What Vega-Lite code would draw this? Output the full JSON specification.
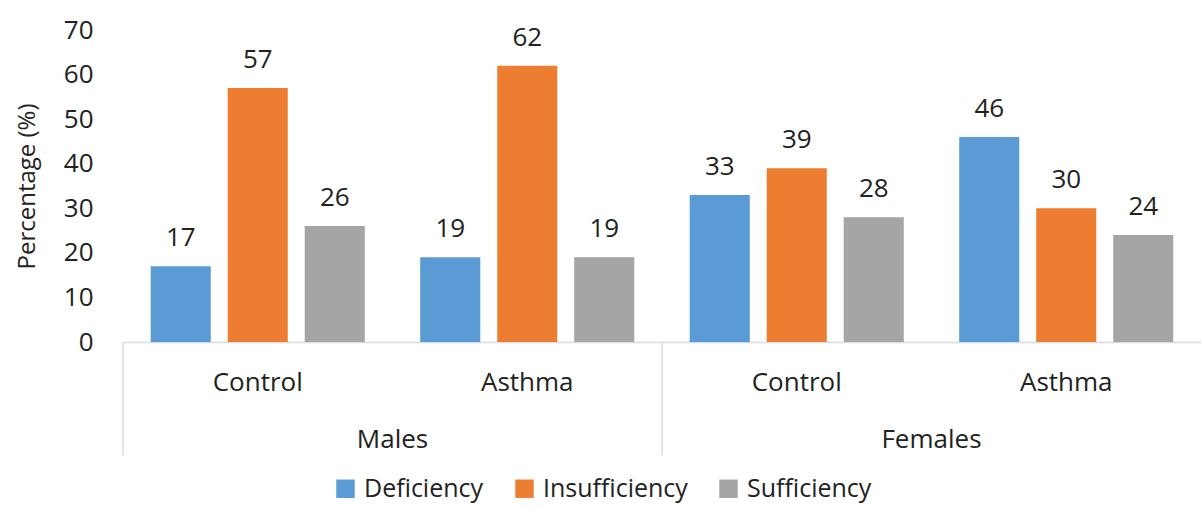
{
  "$schema": "https://vega.github.io/schema/vega-lite/v6.json",
  "width": 1078,
  "height": 312,
  "autosize": {"type": "none"},
  "padding": {"left": 123, "top": 30, "right": 0, "bottom": 165},
  "background": "#ffffff",
  "config": {"view": {"stroke": null}, "font": "Open Sans"},
  "datasets": {
    "bars": [
      {"cat": "Males|Control", "type": "Deficiency", "value": 17},
      {"cat": "Males|Control", "type": "Insufficiency", "value": 57},
      {"cat": "Males|Control", "type": "Sufficiency", "value": 26},
      {"cat": "Males|Asthma", "type": "Deficiency", "value": 19},
      {"cat": "Males|Asthma", "type": "Insufficiency", "value": 62},
      {"cat": "Males|Asthma", "type": "Sufficiency", "value": 19},
      {"cat": "Females|Control", "type": "Deficiency", "value": 33},
      {"cat": "Females|Control", "type": "Insufficiency", "value": 39},
      {"cat": "Females|Control", "type": "Sufficiency", "value": 28},
      {"cat": "Females|Asthma", "type": "Deficiency", "value": 46},
      {"cat": "Females|Asthma", "type": "Insufficiency", "value": 30},
      {"cat": "Females|Asthma", "type": "Sufficiency", "value": 24}
    ],
    "seps": [
      {"cat": "Males|Control"},
      {"cat": "Females|Control"}
    ],
    "groups": [
      {"cat": "Males|Asthma", "label": "Males"},
      {"cat": "Females|Asthma", "label": "Females"}
    ]
  },
  "layer": [
    {
      "data": {"name": "bars"},
      "mark": {"type": "bar"},
      "encoding": {
        "x": {
          "field": "cat",
          "type": "nominal",
          "scale": {"domain": ["Males|Control", "Males|Asthma", "Females|Control", "Females|Asthma"], "paddingInner": 0, "paddingOuter": 0},
          "axis": {
            "title": null,
            "labelExpr": "split(datum.value, '|')[1]",
            "labelAngle": 0,
            "ticks": false,
            "labelFontSize": 26,
            "labelPadding": 27,
            "labelColor": "#222222",
            "domainColor": "#D5DCE4",
            "domainWidth": 1.5
          }
        },
        "xOffset": {
          "field": "type",
          "type": "nominal",
          "scale": {"domain": ["Deficiency", "Insufficiency", "Sufficiency"], "paddingInner": 0.22, "paddingOuter": 0.36}
        },
        "y": {
          "field": "value",
          "type": "quantitative",
          "scale": {"domain": [0, 70], "nice": false},
          "axis": {
            "title": "Percentage (%)",
            "titleFontSize": 24,
            "titleFontWeight": "normal",
            "titleColor": "#222222",
            "titlePadding": 24,
            "values": [0, 10, 20, 30, 40, 50, 60, 70],
            "domain": false,
            "ticks": false,
            "grid": false,
            "labelFontSize": 26,
            "labelPadding": 30,
            "labelColor": "#222222"
          }
        },
        "color": {
          "field": "type",
          "type": "nominal",
          "scale": {"domain": ["Deficiency", "Insufficiency", "Sufficiency"], "range": ["#5B9BD5", "#ED7D31", "#A5A5A5"]},
          "legend": {
            "title": null,
            "orient": "none",
            "legendX": 210,
            "legendY": 446,
            "direction": "horizontal",
            "symbolType": "square",
            "symbolSize": 340,
            "symbolStrokeWidth": 0,
            "labelFontSize": 25,
            "labelColor": "#222222",
            "labelOffset": 6,
            "columnPadding": 28
          }
        }
      }
    },
    {
      "data": {"name": "bars"},
      "mark": {"type": "text", "baseline": "alphabetic", "dy": -20, "fontSize": 26, "color": "#222222"},
      "encoding": {
        "x": {"field": "cat", "type": "nominal"},
        "xOffset": {"field": "type", "type": "nominal"},
        "y": {"field": "value", "type": "quantitative"},
        "text": {"field": "value", "type": "quantitative"}
      }
    },
    {
      "data": {"name": "seps"},
      "mark": {"type": "rule", "color": "#D5DCE4", "strokeWidth": 1.5},
      "encoding": {
        "x": {"field": "cat", "type": "nominal", "bandPosition": 0},
        "y": {"datum": 0},
        "y2": {"datum": -25.4}
      }
    },
    {
      "data": {"name": "groups"},
      "mark": {"type": "text", "baseline": "alphabetic", "fontSize": 26, "color": "#222222"},
      "encoding": {
        "x": {"field": "cat", "type": "nominal", "bandPosition": 0},
        "y": {"datum": -23.8},
        "text": {"field": "label", "type": "nominal"}
      }
    }
  ]
}
